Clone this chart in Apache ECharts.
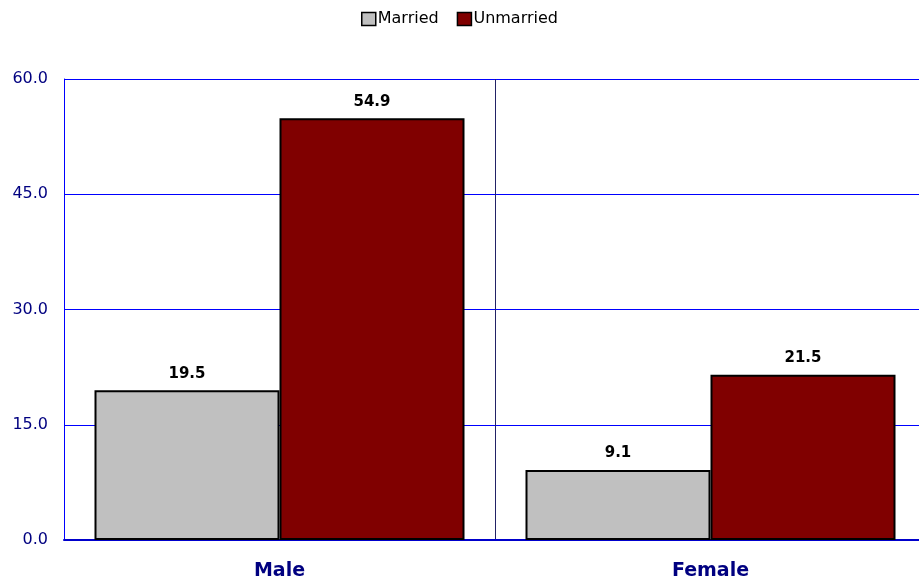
<!DOCTYPE html>
<html>
<head>
<meta charset="utf-8">
<script src="https://cdn.jsdelivr.net/npm/echarts@6/dist/echarts.min.js"></script>
<style>
  html, body { margin: 0; padding: 0; background: #fff; }
  #chart { width: 919px; height: 582px; }
</style>
</head>
<body>
<div id="chart"></div>
<script>
// data
var categories = ["Male", "Female"];
var married = [19.5, 9.1];
var unmarried = [54.9, 21.5];

var chart = echarts.init(document.getElementById("chart"));
chart.setOption({
  animation: false,
  textStyle: { fontFamily: "DejaVu Sans" },
  legend: {
    top: 6,
    left: "center",
    icon: "rect",
    itemWidth: 14,
    itemHeight: 13,
    itemGap: 18,
    itemStyle: { borderColor: "#000", borderWidth: 1.5 },
    textStyle: { color: "#000", fontSize: 16, padding: [0, 0, 0, -3] },
    data: ["Married", "Unmarried"]
  },
  grid: {
    left: 64,
    top: 79,
    right: -7,
    bottom: 42,
    containLabel: false,
    outerBoundsMode: "none"
  },
  xAxis: {
    type: "category",
    data: categories,
    axisTick: { show: false },
    axisLine: { lineStyle: { color: "#0000cc", width: 2 } },
    axisLabel: {
      color: "#000080",
      fontWeight: "bold",
      fontSize: 19,
      margin: 22
    },
    splitLine: { show: true, lineStyle: { color: "#222266", width: 1 } }
  },
  yAxis: {
    type: "value",
    min: 0,
    max: 60,
    interval: 15,
    axisLine: { show: true, lineStyle: { color: "#0000ff", width: 1 } },
    axisTick: { show: false },
    axisLabel: {
      color: "#000080",
      fontSize: 16,
      margin: 16,
      formatter: function (v) { return v.toFixed(1); }
    },
    splitLine: { lineStyle: { color: "#0000ff", width: 1 } }
  },
  series: [
    {
      name: "Married",
      type: "bar",
      barWidth: 185,
      barGap: "0%",
      data: married,
      itemStyle: { color: "#c0c0c0", borderColor: "#000", borderWidth: 2 },
      label: {
        show: true,
        position: "top",
        color: "#000",
        fontWeight: "bold",
        fontSize: 15,
        distance: 9,
        formatter: function (p) { return p.value.toFixed(1); }
      }
    },
    {
      name: "Unmarried",
      type: "bar",
      barWidth: 185,
      data: unmarried,
      itemStyle: { color: "#800000", borderColor: "#000", borderWidth: 2 },
      label: {
        show: true,
        position: "top",
        color: "#000",
        fontWeight: "bold",
        fontSize: 15,
        distance: 9,
        formatter: function (p) { return p.value.toFixed(1); }
      }
    }
  ]
});
</script>
</body>
</html>
